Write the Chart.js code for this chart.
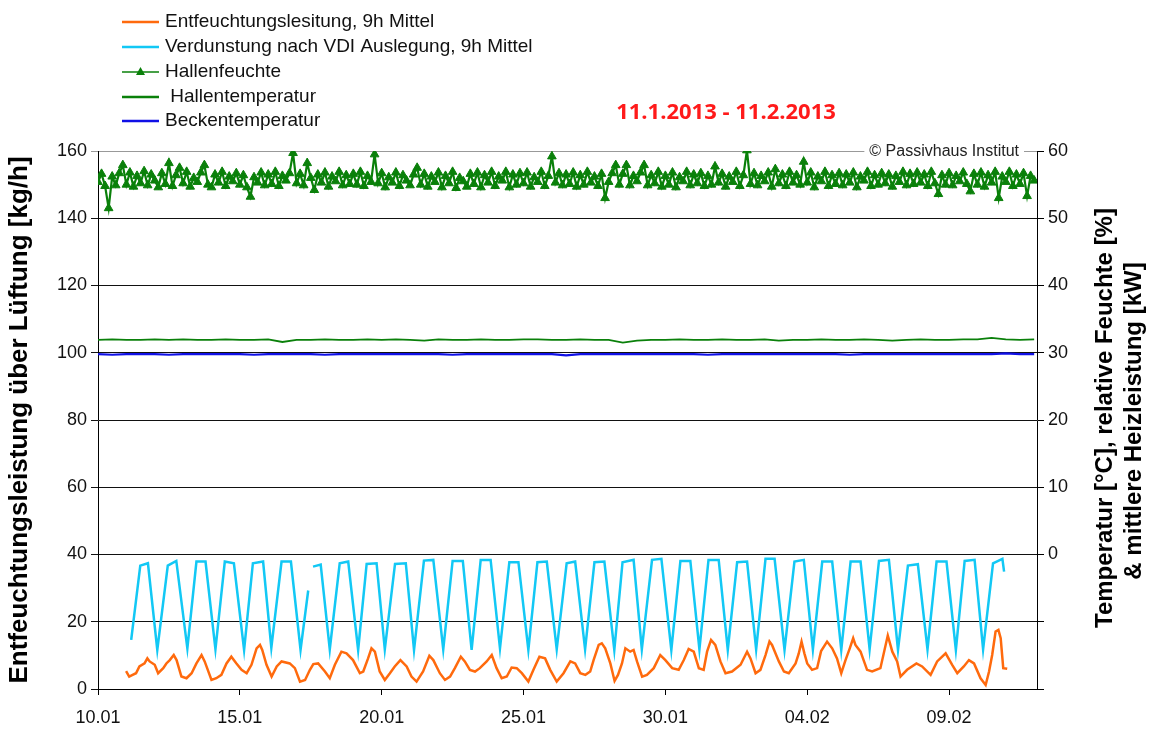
<!DOCTYPE html>
<html>
<head>
<meta charset="utf-8">
<script src="https://cdn.jsdelivr.net/npm/chart.js@4.4.1/dist/chart.umd.min.js"></script>
<style>
  body { margin: 0; background: #fff; }
  #wrap { width: 1158px; height: 731px; }
</style>
</head>
<body>
<div id="wrap"><canvas id="chart" width="1158" height="731"></canvas></div>
<script>
// x values are days after 10.01.2013 00:00
const legendLabels = ['Entfeuchtungslesitung, 9h Mittel', 'Verdunstung nach VDI Auslegung, 9h Mittel',
  'Hallenfeuchte', ' Hallentemperatur', 'Beckentemperatur'];

// Entfeuchtungsleistung (left axis, kg/h)
const orangeDay = [0.99,1.10,1.22,1.34,1.46,1.64,1.74,1.82,2.00,2.12,2.30,2.41,2.53,2.67,2.77,2.94,3.12,3.30,3.47,3.65,
  3.76,4.00,4.17,4.35,4.53,4.70,4.88,5.06,5.24,5.41,5.59,5.71,5.79,5.94,6.12,6.30,6.47,6.76,6.94,7.12,
  7.30,7.47,7.59,7.76,8.00,8.17,8.35,8.58,8.76,8.99,9.23,9.35,9.52,9.64,9.76,9.93,10.11,10.29,10.46,10.66,
  10.88,11.05,11.23,11.46,11.68,11.82,12.05,12.23,12.41,12.58,12.79,12.93,13.11,13.29,13.46,13.70,13.88,14.05,14.23,14.41,
  14.58,14.76,14.94,15.17,15.35,15.56,15.76,15.94,16.17,16.41,16.65,16.82,17.00,17.18,17.35,17.47,17.65,17.76,17.88,18.06,
  18.21,18.33,18.47,18.59,18.76,18.88,19.00,19.18,19.35,19.59,19.82,20.00,20.24,20.47,20.65,20.82,21.00,21.18,21.35,21.47,
  21.61,21.76,21.94,22.12,22.35,22.65,22.88,23.00,23.18,23.35,23.53,23.67,23.76,24.00,24.18,24.35,24.59,24.70,24.80,24.90,
  25.00,25.17,25.35,25.49,25.70,25.88,26.05,26.20,26.35,26.50,26.62,26.70,26.88,27.11,27.29,27.58,27.84,28.00,28.17,28.29,
  28.52,28.85,29.05,29.35,29.58,29.88,30.11,30.29,30.52,30.70,30.88,31.11,31.29,31.41,31.52,31.64,31.74,31.82,31.91,32.05];
const orangeVal = [5.3,3.7,4.2,4.7,6.7,7.6,9.1,8.2,7.2,4.7,6.2,7.6,8.6,10.1,8.6,3.7,3.2,4.7,7.6,10.1,
  8.2,2.7,3.2,4.2,7.6,9.6,7.6,5.7,4.7,7.2,12.1,13.1,11.6,7.2,3.7,6.7,8.2,7.6,6.2,2.2,
  2.7,5.7,7.4,7.6,5.2,3.2,7.2,11.1,10.6,8.6,4.7,5.2,9.1,12.1,11.1,5.2,2.7,4.7,6.7,8.6,
  6.7,3.7,2.2,5.2,9.9,8.6,4.7,2.7,3.7,6.2,9.6,8.2,5.7,5.2,6.2,8.2,10.1,6.2,3.2,3.7,
  6.4,6.2,4.7,2.2,5.7,9.6,9.1,5.7,2.2,4.7,8.2,7.6,4.7,4.2,5.2,8.6,13.1,13.6,12.1,7.6,
  2.4,4.2,7.6,12.1,11.1,11.6,8.2,3.7,4.2,6.2,10.1,8.6,6.2,5.7,8.6,11.9,11.1,6.2,5.7,11.1,
  14.6,13.1,8.2,4.7,5.2,7.2,11.1,9.1,4.7,5.7,10.1,14.1,13.1,8.2,5.2,4.7,7.6,10.5,14.1,10.6,
  7.6,5.7,6.2,11.3,14.1,12.1,9.1,4.7,8.6,12.1,15.1,13.1,11.1,5.7,5.2,6.2,15.9,11.1,8.2,3.7,
  5.7,7.6,6.7,4.2,8.2,10.6,7.2,4.7,6.7,8.6,7.6,3.2,1.2,5.2,10.1,17.1,17.6,15.1,6.2,6.0];

// Verdunstung nach VDI (left axis, kg/h)
const cyanDay = [1.17,1.49,1.76,2.09,2.46,2.76,3.15,3.47,3.79,4.14,4.47,4.79,5.15,5.46,5.82,6.11,6.47,6.80,7.14,7.41,
  7.48,7.58,7.85,8.17,8.52,8.82,9.17,9.47,9.82,10.11,10.47,10.85,11.14,11.49,11.82,12.17,12.50,12.86,13.17,13.49,
  13.84,14.17,14.50,14.82,15.17,15.49,15.82,16.17,16.52,16.82,17.17,17.50,17.85,18.20,18.49,18.88,19.17,19.53,19.86,20.21,
  20.53,20.88,21.20,21.52,21.88,22.20,22.53,22.88,23.20,23.53,23.85,24.20,24.55,24.88,25.20,25.53,25.88,26.20,26.53,26.88,
  27.20,27.53,27.88,28.20,28.55,28.90,29.24,29.56,29.91,30.24,30.55,30.90,31.20,31.55,31.88,31.94];
const cyanVal = [14.6,36.7,37.4,11.6,36.7,38.1,12.1,37.9,37.9,11.8,37.9,37.4,11.6,37.4,37.9,12.3,37.9,37.9,11.6,29.3,
  null,36.4,37.0,11.8,37.4,37.9,11.6,37.2,37.4,11.8,37.2,37.4,11.6,38.2,38.4,11.8,38.1,38.1,11.6,38.4,
  38.4,12.1,37.7,37.7,11.6,37.7,37.9,11.8,37.4,37.9,11.8,37.7,37.9,11.6,37.7,38.4,11.8,38.4,38.7,11.6,
  38.1,38.1,11.8,38.4,38.4,11.6,37.7,37.9,11.8,38.7,38.7,11.6,37.9,38.4,11.8,37.9,37.9,11.6,37.9,37.9,
  11.8,38.1,38.4,11.6,36.7,37.1,11.8,37.9,37.9,11.6,38.1,38.4,11.8,37.4,38.7,34.9];

// Hallenfeuchte (right axis, %), eight readings a day from 10.01 00:00
const humidPerDay = 8;
const humidVal = [
  55.4,56.6,54.8,51.5,56.2,54.9,56.7,57.9,  55.0,56.8,54.7,56.3,55.2,57.0,54.9,56.5,
  55.6,54.6,56.7,55.1,58.2,54.8,56.4,57.5,  55.2,56.9,54.7,56.0,55.4,56.8,57.9,55.0,
  54.6,56.5,55.3,56.9,54.8,56.2,55.5,56.7,  55.0,56.4,54.6,53.2,56.1,55.3,56.8,54.9,
  56.5,55.1,56.9,54.8,56.3,55.6,56.7,59.7,  55.2,56.6,54.9,58.2,56.0,54.2,56.5,55.3,
  56.8,54.7,56.2,55.5,56.9,54.9,56.4,55.1,  56.6,55.0,56.9,54.8,56.3,55.4,59.5,55.2,
  56.7,54.6,56.1,55.3,56.8,54.8,56.4,55.6,  54.9,56.5,57.5,55.0,56.6,54.7,56.2,55.4,
  56.8,54.6,56.3,55.2,56.9,54.5,56.0,55.5,  54.7,56.6,55.1,56.8,54.6,56.4,55.3,56.9,
  54.8,56.2,55.6,56.9,54.6,56.5,55.0,56.7,  55.2,56.8,54.7,56.1,55.4,56.9,54.8,56.3,
  59.2,55.3,56.7,54.9,56.5,55.1,56.8,54.7,  56.4,55.0,56.9,55.3,56.2,54.8,56.6,53.0,
  55.4,56.7,57.9,55.0,56.6,57.9,54.9,56.3,  55.5,56.8,57.9,54.9,56.4,55.2,56.9,54.7,
  56.3,55.0,56.8,54.6,56.1,55.5,56.9,54.9,  56.5,55.2,56.7,54.8,56.3,55.0,57.7,55.3,
  56.6,54.7,56.2,55.4,56.9,54.8,56.4,60.1,  55.1,56.7,54.9,56.3,55.5,56.8,54.7,57.3,
  55.2,56.5,54.8,56.9,55.3,56.4,55.0,58.4,  55.3,56.8,54.6,56.2,55.5,56.9,54.8,56.4,
  55.1,56.7,54.9,56.5,55.3,56.8,54.6,56.2,  55.6,56.9,54.8,56.4,55.0,56.7,55.2,56.5,
  54.7,56.3,55.4,56.9,54.9,56.6,55.1,56.8,  55.3,56.5,54.8,56.9,55.2,53.6,56.4,55.0,
  56.7,54.9,56.3,55.5,56.8,55.1,54.0,56.6,  55.0,56.8,54.7,56.4,55.3,56.9,53.0,56.2,
  55.4,56.9,54.8,56.5,55.1,56.7,53.3,56.3,  55.6];

// Hallen- und Beckentemperatur (right axis, °C), two readings a day
const tempPerDay = 2;
const hallTemp = [31.9,32.0,31.9,31.9,32.0,31.9,32.0,31.9,31.9,32.0,
  31.9,31.9,32.0,31.6,31.9,31.9,32.0,31.9,31.9,32.0,
  31.9,32.0,31.9,31.8,32.0,31.9,31.9,32.0,31.9,31.9,
  32.0,32.0,31.9,31.9,32.0,31.9,31.9,31.5,31.8,31.9,
  31.9,32.0,31.9,31.9,32.0,31.9,31.9,32.0,31.8,31.9,
  31.9,32.0,31.9,31.9,32.0,31.9,31.8,31.9,32.0,31.9,
  31.9,32.0,32.0,32.2,32.0,31.9,32.0];
const beckenTemp = [29.8,29.7,29.8,29.8,29.8,29.7,29.8,29.8,29.8,29.8,
  29.8,29.7,29.8,29.8,29.8,29.8,29.7,29.8,29.8,29.8,
  29.8,29.8,29.8,29.8,29.8,29.7,29.8,29.8,29.8,29.8,
  29.8,29.8,29.8,29.6,29.8,29.8,29.8,29.8,29.8,29.8,
  29.8,29.8,29.8,29.7,29.8,29.8,29.8,29.8,29.8,29.8,
  29.8,29.8,29.8,29.7,29.8,29.8,29.8,29.8,29.8,29.8,
  29.8,29.8,29.8,29.8,29.9,29.8,29.8];

const leftTicks = [0, 20, 40, 60, 80, 100, 120, 140, 160];
const rightTicks = [-20, -10, 0, 10, 20, 30, 40, 50, 60];

const ORANGE = '#ff6a0d', CYAN = '#12c8f5', GREEN = '#0a800a', BLUE = '#1010e6';
const FONT = "'Liberation Sans', Arial, sans-serif";

const pts = (xs, ys) => xs.map((x, i) => ({ x: x, y: ys[i] }));
const series = (ys, perDay) => ys.map((y, i) => ({ x: i / perDay, y: y }));

function dayLabel(v) {
  const d = new Date(2013, 0, 10 + v);
  return String(d.getDate()).padStart(2, '0') + '.' + String(d.getMonth() + 1).padStart(2, '0');
}

// legend, date range, copyright and right axis title
const extras = {
  id: 'extras',
  afterDraw(chart) {
    const ctx = chart.ctx;
    ctx.save();
    const rows = [21, 46, 71, 96, 120];
    const colors = [ORANGE, CYAN, GREEN, GREEN, BLUE];
    ctx.font = '19px ' + FONT;
    ctx.textBaseline = 'middle';
    rows.forEach((y, i) => {
      ctx.strokeStyle = colors[i];
      ctx.lineWidth = i === 2 ? 1.5 : 2.5;
      ctx.beginPath(); ctx.moveTo(122, y + 1); ctx.lineTo(159, y + 1); ctx.stroke();
      if (i === 2) {
        ctx.fillStyle = GREEN;
        ctx.beginPath(); ctx.moveTo(140.5, y - 4); ctx.lineTo(145, y + 4); ctx.lineTo(136, y + 4); ctx.closePath(); ctx.fill();
      }
      ctx.fillStyle = '#111';
      ctx.fillText(legendLabels[i], 165, y + 1);
    });

    ctx.font = "bold 22px 'Open Sans', " + FONT;
    ctx.fillStyle = '#ff1a1a';
    ctx.textAlign = 'center';
    ctx.fillText('11.1.2013 - 11.2.2013', 726, 113);

    const txt = '\u00a9 Passivhaus Institut';
    ctx.font = '16px ' + FONT;
    const w = ctx.measureText(txt).width;
    ctx.fillStyle = '#fff';
    ctx.fillRect(1019 - w - 5, 143, w + 10, 18);
    ctx.fillStyle = '#222';
    ctx.textAlign = 'right';
    ctx.fillText(txt, 1019, 152);

    ctx.font = 'bold 24px ' + FONT;
    ctx.fillStyle = '#000';
    ctx.textAlign = 'center';
    ctx.translate(1105, 418);
    ctx.rotate(-Math.PI / 2);
    ctx.fillText('Temperatur [\u00b0C], relative Feuchte [%]', 0, 0);
    ctx.fillText('& mittlere Heizleistung [kW]', -3, 29);
    ctx.restore();
  }
};

new Chart(document.getElementById('chart'), {
  type: 'scatter',
  data: {
    datasets: [
      { label: legendLabels[0], data: pts(orangeDay, orangeVal), showLine: true, borderColor: ORANGE,
        borderWidth: 2.5, pointRadius: 0, yAxisID: 'y', order: 5 },
      { label: legendLabels[1], data: pts(cyanDay, cyanVal), showLine: true, spanGaps: false, borderColor: CYAN,
        borderWidth: 2.5, pointRadius: 0, yAxisID: 'y', order: 4 },
      { label: legendLabels[2], data: series(humidVal, humidPerDay), showLine: true, borderColor: GREEN,
        borderWidth: 2.2, pointStyle: 'triangle', pointRadius: 5, backgroundColor: GREEN,
        pointBorderColor: GREEN, pointBorderWidth: 1, yAxisID: 'y1', order: 1 },
      { label: legendLabels[3], data: series(hallTemp, tempPerDay), showLine: true, borderColor: GREEN,
        borderWidth: 1.8, pointRadius: 0, yAxisID: 'y1', order: 2 },
      { label: legendLabels[4], data: series(beckenTemp, tempPerDay), showLine: true, borderColor: BLUE,
        borderWidth: 2.2, pointRadius: 0, yAxisID: 'y1', order: 3 }
    ]
  },
  options: {
    responsive: false,
    animation: false,
    layout: { padding: { top: 151, right: 0, left: 0, bottom: 0 } },
    plugins: { legend: { display: false }, tooltip: { enabled: false } },
    scales: {
      x: {
        type: 'linear', min: 0, max: 33.1,
        afterFit: s => { s.height = 42; },
        ticks: { stepSize: 5, includeBounds: false, callback: v => dayLabel(v), color: '#111',
          font: { family: FONT, size: 18 }, maxRotation: 0, padding: 12 },
        grid: { drawOnChartArea: false, color: '#000', tickLength: 6 },
        border: { color: '#000', width: 1 }
      },
      y: {
        position: 'left', min: leftTicks[0], max: leftTicks[leftTicks.length - 1],
        afterFit: s => { s.width = 98; },
        afterBuildTicks: s => { s.ticks = leftTicks.map(v => ({ value: v })); },
        ticks: { color: '#111', font: { family: FONT, size: 18 }, padding: 4 },
        grid: { color: c => c.tick && c.tick.value === 160 ? '#999' : '#111', tickLength: 7, lineWidth: 1 },
        border: { color: '#000', width: 1 },
        title: { display: true, text: 'Entfeuchtungsleistung über Lüftung [kg/h]', color: '#000',
          font: { family: FONT, size: 26, weight: 'bold' }, padding: { top: 4, bottom: 2 } }
      },
      y1: {
        position: 'right', min: rightTicks[0], max: rightTicks[rightTicks.length - 1],
        afterFit: s => { s.width = 121; },
        afterBuildTicks: s => { s.ticks = rightTicks.map(v => ({ value: v })); },
        ticks: { color: '#111', font: { family: FONT, size: 18 }, padding: 4,
          callback: v => v < 0 ? '' : v },
        grid: { drawOnChartArea: false, color: '#000', tickLength: 7 },
        border: { color: '#000', width: 1 }
      }
    }
  },
  plugins: [extras]
});
</script>
</body>
</html>
